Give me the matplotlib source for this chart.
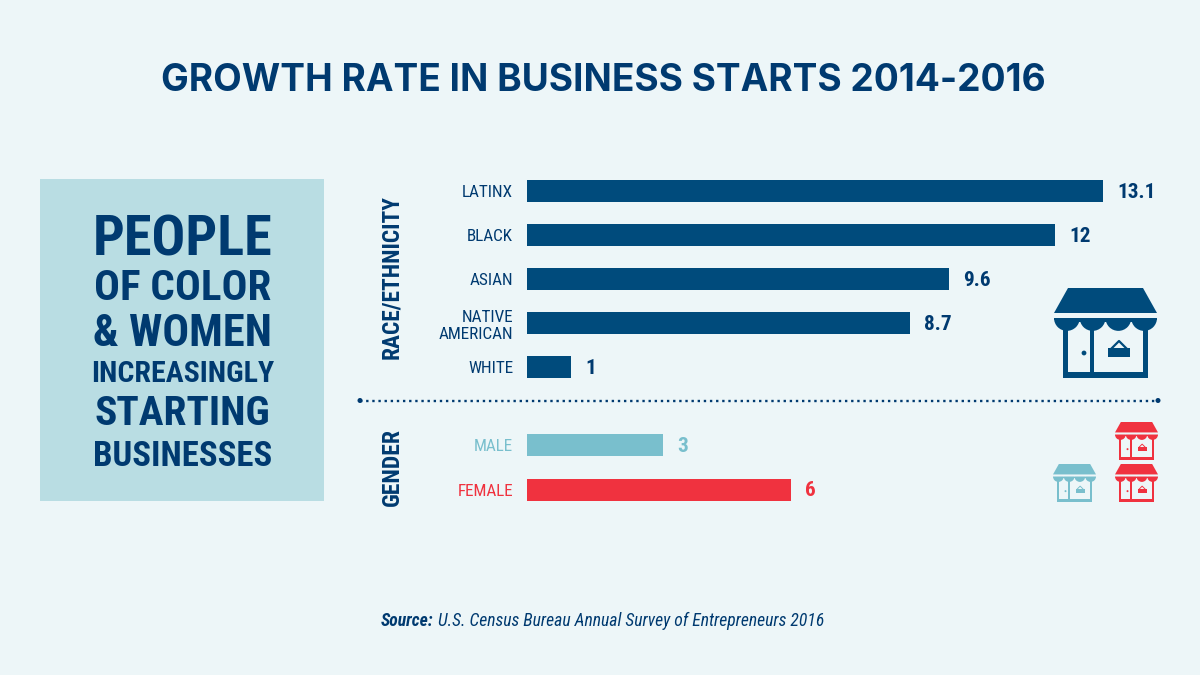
import matplotlib
matplotlib.use("Agg")
import matplotlib.pyplot as plt
from matplotlib.patches import Polygon, Rectangle, Wedge, Circle
from matplotlib import font_manager as fm

race_labels = ["LATINX", "BLACK", "ASIAN", "NATIVE\nAMERICAN", "WHITE"]
race_values = [13.1, 12, 9.6, 8.7, 1]
race_text = ["13.1", "12", "9.6", "8.7", "1"]
gender_labels = ["MALE", "FEMALE"]
gender_values = [3.1, 6]
gender_text = ["3", "6"]

BG = "#edf6f8"; BOX = "#b9dde3"; NAVY = "#004b7c"; INK = "#003a70"; TEAL = "#79bfcd"; RED = "#f0323f"

def pick(names):
    for n in names:
        try:
            fm.findfont(n, fallback_to_default=False)
            return n
        except Exception:
            pass
    return "DejaVu Sans"
NARROW = pick(["Liberation Sans Narrow", "Roboto Condensed", "Open Sans Condensed", "Noto Sans"])
WIDE = pick(["Inter", "Open Sans", "Lato"])

W, H = 1200, 675
fig = plt.figure(figsize=(12, 6.75), dpi=100, facecolor=BG)
bg = fig.add_axes([0, 0, 1, 1]); bg.set_xlim(0, W); bg.set_ylim(H, 0); bg.axis("off")

def px_axes(x0, y0, x1, y1):
    a = fig.add_axes([x0 / W, 1 - y1 / H, (x1 - x0) / W, (y1 - y0) / H])
    a.patch.set_alpha(0)
    a.set_xlim(0, (x1 - x0) / 44)
    for s in a.spines.values():
        s.set_visible(False)
    a.tick_params(length=0, pad=10)
    a.set_xticks([])
    return a

def bars(a, labels, values, texts, colors, tick_colors):
    pos = list(range(len(values)))
    a.barh(pos, values, height=0.5, color=colors)
    a.set_ylim(len(values) - 0.5, -0.5)
    a.set_yticks(pos, labels, fontfamily=NARROW, fontsize=12.3, linespacing=1.2)
    for t, c in zip(a.get_yticklabels(), tick_colors):
        t.set_color(c); t.set_multialignment("right")
    for p, v, s, c in zip(pos, values, texts, tick_colors):
        a.annotate(s, (v, p), xytext=(10, -0.8), textcoords="offset points", va="center",
                   fontfamily=NARROW, fontweight="bold", fontsize=15.3, color=c)

ax_r = px_axes(527, 169, 1200, 389)
bars(ax_r, race_labels, race_values, race_text, NAVY, [INK] * 5)
ax_g = px_axes(527, 423, 1200, 512)
bars(ax_g, gender_labels, gender_values, gender_text, [TEAL, RED], [TEAL, RED])

# title
bg.text(603, 81, "GROWTH RATE IN BUSINESS STARTS 2014-2016", ha="center", va="center",
        fontfamily=WIDE, fontweight="bold", fontsize=26.7, color=INK)

# left box
bg.add_patch(Rectangle((40, 179), 284, 322, color=BOX, lw=0))
for s, y, fs in [("PEOPLE", 240, 40.4), ("OF COLOR", 289, 31), ("& WOMEN", 334, 32),
                 ("INCREASINGLY", 374, 21.5), ("STARTING", 414, 29.8), ("BUSINESSES", 456, 25)]:
    bg.text(182.5, y, s, ha="center", va="center", fontfamily=NARROW, fontweight="bold", fontsize=fs, color=INK)

# group labels
bg.text(392, 277, "RACE/ETHNICITY", rotation=90, ha="center", va="center", fontfamily=NARROW,
        fontweight="bold", fontsize=16.8, color=INK)
bg.text(392, 467.5, "GENDER", rotation=90, ha="center", va="center", fontfamily=NARROW,
        fontweight="bold", fontsize=17, color=INK)

# divider
bg.plot([360, 1158], [400.5, 400.5], ls=(0, (1, 1.6)), lw=1.7, color=INK)
bg.add_patch(Circle((360, 400.5), 2.5, color=INK, lw=0))
bg.add_patch(Circle((1158, 400.5), 2.5, color=INK, lw=0))

def store(x, y, w, color):
    k = w / 103.0
    X = lambda v: x + v * k
    Y = lambda v: y + v * k
    bg.add_patch(Polygon([(X(14), Y(0)), (X(89), Y(0)), (X(103), Y(25)), (X(0), Y(25))], color=color, lw=0))
    bg.add_patch(Rectangle((X(9), Y(30)), 85 * k, 60 * k, color=color, lw=0))
    bg.add_patch(Rectangle((X(14), Y(34)), 22 * k, 50 * k, color=BG, lw=0))
    bg.add_patch(Rectangle((X(40), Y(34)), 49 * k, 50 * k, color=BG, lw=0))
    sw = 103 / 4
    for i in range(4):
        cx = X(sw * (i + 0.5))
        bg.add_patch(Wedge((cx, Y(30)), sw / 2 * k, 0, 180, color=color, lw=0))
    bg.add_patch(Rectangle((X(0), Y(30)), 103 * k, 2 * k, color=color, lw=0))
    bg.add_patch(Rectangle((X(54), Y(60)), 22 * k, 9 * k, color=color, lw=0))
    bg.plot([X(58), X(65), X(72)], [Y(60), Y(53), Y(60)], color=color, lw=max(0.6, 1.6 * k))
    bg.add_patch(Circle((X(30), Y(65)), 2.4 * k, color=color, lw=0))

store(1054, 288, 103, NAVY)
store(1115, 422, 43, RED)
store(1115, 464, 43, RED)
store(1053, 464, 43, TEAL)

# source
r = fig.canvas.get_renderer()
t1 = bg.text(381, 621, "Source:", ha="left", va="center", fontfamily=NARROW, fontweight="bold",
             fontstyle="italic", fontsize=12.7, color=INK)
e = t1.get_window_extent(r)
bg.text(e.x1 + 4, 621, "U.S. Census Bureau Annual Survey of Entrepreneurs 2016", ha="left", va="center",
        fontfamily=NARROW, fontstyle="italic", fontsize=12.7, color=INK)

fig.savefig("out.png", dpi=100, facecolor=BG)
